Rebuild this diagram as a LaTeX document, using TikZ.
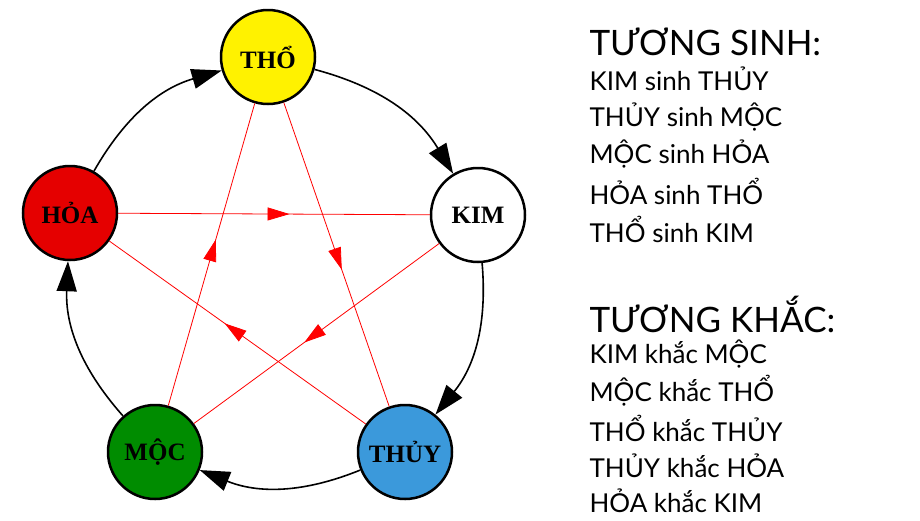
\documentclass[tikz,border=0pt]{standalone}
\usepackage{fontspec}
\setmainfont{Liberation Serif}
\newfontfamily\labelfont{Lato}
\usetikzlibrary{arrows.meta,decorations.markings}
\tikzset{element/.style={draw=black, line width=2.5pt, circle, minimum size=94pt, inner sep=0pt, font=\bfseries\fontsize{25}{28}\selectfont},
  sinh/.style={line width=1.6pt, -{Triangle[length=30pt,width=20pt]}},
  khac/.style={draw=red, line width=0.8pt, postaction={decorate}, decoration={markings, mark=at position 0.55 with {\arrow{Triangle[length=22pt,width=13pt]}}}, color=red},
  heading/.style={anchor=west, font=\labelfont\fontsize{35}{38}\selectfont},
  line/.style={anchor=west, font=\labelfont\fontsize{26}{28}\selectfont}}
\begin{document}
\begin{tikzpicture}[x=1pt,y=-1pt]
\useasboundingbox (0,0) rectangle (920,520);
\fill[white] (0,0) rectangle (920,520);
% elements
\node[element, fill=yellow] (tho) at (268,57) {THỔ};
\node[element, fill=white] (kim) at (478,215) {KIM};
\node[element, fill=cyan!70!blue!80] (thuy) at (405,452) {THỦY};
\node[element, fill=green!55!black] (moc) at (155,452) {MỘC};
\node[element, fill=red!90!black] (hoa) at (70,213) {HỎA};
% tuong khac
\draw[khac] (hoa) -- (kim);
\draw[khac] (tho) -- (thuy);
\draw[khac] (thuy) -- (hoa);
\draw[khac] (kim) -- (moc);
\draw[khac] (moc) -- (tho);
% tuong sinh
\draw[sinh] (tho) to[bend left=22] (kim);
\draw[sinh] (kim) to[bend left=22] (thuy);
\draw[sinh] (thuy) to[bend left=22] (moc);
\draw[sinh] (moc) to[bend left=22] (hoa);
\draw[sinh] (hoa) to[bend left=22] (tho);
% text
\node[heading] (h1) at (586,42) {TƯƠNG SINH:};
\node[line] at (586,79) {KIM sinh THỦY};
\node[line] at (586,117) {THỦY sinh MỘC};
\node[line] at (586,154) {MỘC sinh HỎA};
\node[line] at (586,191) {HỎA sinh THỔ};
\node[line] at (586,229) {THỔ sinh KIM};
\node[heading] (h2) at (586,314) {TƯƠNG KHẮC:};
\node[line] at (586,354) {KIM khắc MỘC};
\node[line] at (586,391) {MỘC khắc THỔ};
\node[line] at (586,428) {THỔ khắc THỦY};
\node[line] at (586,466) {THỦY khắc HỎA};
\node[line] at (586,501) {HỎA khắc KIM};
\end{tikzpicture}
\end{document}
